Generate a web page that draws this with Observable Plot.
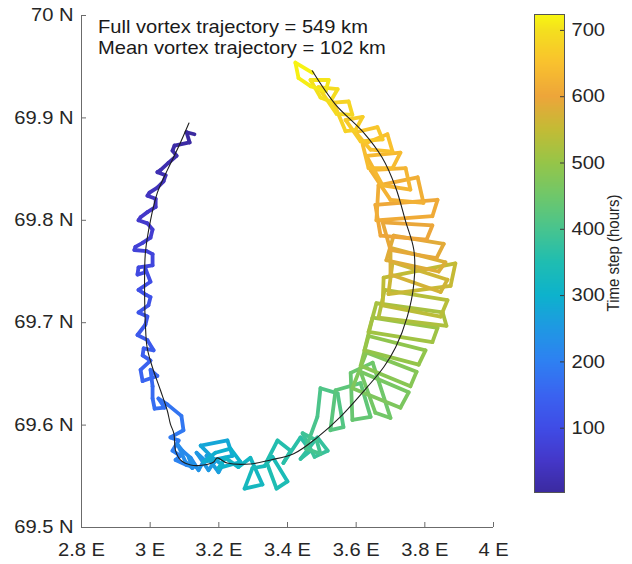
<!DOCTYPE html>
<html><head><meta charset="utf-8">
<script src="https://cdn.jsdelivr.net/npm/d3@7"></script>
<script src="https://cdn.jsdelivr.net/npm/@observablehq/plot@0.6"></script>
<style>
html,body{margin:0;padding:0;background:#fff;}
#chart{position:relative;width:632px;height:564px;overflow:hidden;}
#chart svg{position:absolute;left:0;top:0;}
</style></head><body><div id="chart"></div>
<script>
// Vortex positions (degrees E / degrees N) and time step (hours)
const lon = [3.129,3.106,3.115,3.071,3.065,3.077,3.053,3.030,3.021,3.045,
  3.039,3.021,2.998,2.992,3.016,3.016,2.992,2.972,2.966,2.992,
  3.007,3.001,2.978,2.957,2.954,2.989,3.007,3.007,2.966,2.963,
  2.984,2.986,3.001,2.966,2.989,3.001,2.995,2.966,2.992,2.986,
  2.963,2.992,3.010,2.981,2.978,3.001,2.972,2.978,3.021,3.001,
  3.007,3.007,3.013,3.042,3.024,3.051,3.091,3.097,3.059,3.083,
  3.065,3.088,3.074,3.106,3.135,3.118,3.094,3.080,
  3.103,3.123,3.112,3.141,3.158,3.135,3.170,3.187,3.164,3.199,3.211,3.182,
  3.147,3.225,3.240,3.155,3.190,3.234,3.263,3.199,3.219,
  3.257,3.292,3.327,3.275,3.298,3.333,3.356,3.400,3.368,3.339,3.371,3.409,3.388,3.438,3.467,3.438,3.487,3.517,3.479,
  3.444,3.485,3.496,3.453,3.487,3.496,3.546,3.563,3.525,3.540,3.613,3.642,3.589,3.584,3.648,3.700,3.656,
  3.613,3.753,3.729,3.589,3.630,3.776,3.758,3.613,3.636,3.802,3.782,3.624,3.648,3.837,3.822,3.636,
  3.659,3.852,3.863,3.665,3.683,3.866,3.846,3.677,3.680,3.889,3.875,3.694,3.706,3.866,3.846,3.700,
  3.700,3.860,3.840,3.688,3.709,3.855,3.834,3.700,3.677,3.822,3.805,3.671,3.656,3.837,3.822,3.659,
  3.665,3.779,3.796,3.700,3.642,3.744,3.758,3.677,3.630,3.729,3.706,3.636,3.619,3.691,3.706,3.642,
  3.598,3.662,3.677,3.613,3.569,3.619,3.598,3.569,3.534,3.578,3.589,3.543,3.490,3.546,3.525,3.496,
  3.467,3.520,3.511,3.467,3.432,3.423,3.473];
const lat = [69.884,69.886,69.876,69.873,69.868,69.863,69.856,69.849,69.847,69.844,
  69.838,69.832,69.827,69.824,69.821,69.813,69.808,69.803,69.800,69.797,
  69.791,69.783,69.778,69.774,69.771,69.770,69.767,69.756,69.754,69.747,
  69.749,69.753,69.740,69.732,69.727,69.725,69.717,69.710,69.706,69.698,
  69.688,69.683,69.673,69.675,69.668,69.663,69.654,69.643,69.648,69.654,
  69.638,69.626,69.616,69.617,69.626,69.620,69.609,69.595,69.588,69.585,
  69.575,69.570,69.566,69.561,69.559,69.568,69.575,69.581,
  69.564,69.558,69.569,69.556,69.566,69.573,69.556,69.564,69.570,69.554,69.561,69.568,
  69.580,69.585,69.570,69.564,69.573,69.577,69.564,69.558,69.568,
  69.559,69.568,69.542,69.538,69.558,69.560,69.569,69.545,69.538,69.564,69.585,69.575,69.563,69.588,69.575,69.567,69.588,69.575,69.569,
  69.592,69.585,69.572,69.577,69.608,69.636,69.631,69.598,69.595,69.634,69.641,69.608,69.605,69.651,69.661,69.607,69.612,
  69.652,69.632,69.617,69.636,69.671,69.652,69.638,69.658,69.687,69.673,69.659,69.673,69.705,69.695,69.681,69.691,
  69.719,69.710,69.697,69.705,69.732,69.722,69.706,69.717,69.744,69.758,69.736,69.728,69.759,69.742,69.730,69.747,
  69.773,69.759,69.750,69.761,69.785,69.777,69.763,69.771,69.798,69.795,69.781,69.785,69.815,69.820,69.804,69.800,
  69.834,69.842,69.817,69.820,69.849,69.851,69.830,69.834,69.863,69.866,69.851,69.851,69.874,69.884,69.867,69.869,
  69.886,69.891,69.879,69.877,69.898,69.901,69.888,69.887,69.915,69.916,69.903,69.904,69.930,69.928,69.916,69.920,
  69.937,69.937,69.926,69.931,69.939,69.954,69.944];
const hours = [1,3,6,10,12,15,19,22,24,27,
  30,34,37,39,42,46,50,53,55,58,
  62,66,70,73,75,78,81,85,89,92,
  94,96,100,104,107,109,113,117,120,124,
  128,131,135,138,141,145,149,152,155,158,
  162,166,169,172,175,178,182,186,190,193,
  197,200,204,208,212,216,219,222,
  226,230,234,238,242,246,250,254,258,262,266,270,
  274,279,284,289,293,297,301,305,309,
  313,317,322,326,330,334,337,342,346,350,354,358,361,365,369,372,376,380,383,
  387,391,395,399,403,408,412,417,421,425,430,435,439,443,447,452,456,
  460,464,467,471,474,478,482,485,489,492,496,500,503,507,510,514,
  518,521,525,528,532,536,539,543,546,550,554,557,561,564,568,572,
  575,577,580,582,585,587,590,592,595,597,600,602,605,607,610,612,
  615,617,620,622,625,627,630,632,635,637,640,642,645,647,650,652,
  655,658,661,664,667,670,673,676,679,682,685,688,691,694,697,700,
  703,706,709,712,715,718,721];

// Mean vortex trajectory
const meanLon = [3.113,3.083,3.050,3.021,3.001,2.986,2.984,2.986,2.991,3.006,3.030,3.050,3.059,3.069,3.074,3.088,3.118,3.156,3.185,3.195,3.224,3.292,3.351,3.418,3.487,3.554,3.632,3.681,3.715,3.749,3.768,3.768,3.744,3.715,3.676,3.618,3.540,3.472];
const meanLat = [69.895,69.872,69.849,69.827,69.800,69.768,69.722,69.699,69.676,69.657,69.634,69.614,69.601,69.592,69.575,69.566,69.561,69.561,69.564,69.568,69.563,69.562,69.566,69.572,69.588,69.608,69.637,69.657,69.676,69.706,69.738,69.771,69.799,69.832,69.861,69.887,69.913,69.946];

// Axes
const xTicks = [2.8, 3, 3.2, 3.4, 3.6, 3.8, 4];
const xTickLabels = ["2.8 E", "3 E", "3.2 E", "3.4 E", "3.6 E", "3.8 E", "4 E"];
const yTicks = [69.5, 69.6, 69.7, 69.8, 69.9, 70];
const yTickLabels = ["69.5 N", "69.6 N", "69.7 N", "69.8 N", "69.9 N", "70 N"];

// Colorbar
const cbRange = [3, 724];
const cbTicks = [100, 200, 300, 400, 500, 600, 700];
const cbStops = [3, 50, 100, 150, 200, 250, 300, 350, 400, 450, 500, 550, 600, 650, 700, 724];
const cbColors = ["#3b2aa0","#4437c8","#3f4ce6","#3a63f0","#2e80f2","#1f98e3","#0db2cc","#1fbdb1",
                  "#48c48e","#6fc76a","#96c548","#c3bb35","#eda53a","#f9c12e","#f4df1e","#f8f710"];
const cbLabel = "Time step (hours)";
const annotation = ["Full vortex trajectory = 549 km", "Mean vortex trajectory = 102 km"];

const FONT = "'Liberation Sans', Arial, Helvetica, sans-serif";
const AX = "#6b6b6b";
const W = 632, H = 564;
const mL = 81, mR = 139, mT = 15, mB = 37;
const plotW = W - mL - mR, plotH = H - mT - mB;

const segs = d3.range(lon.length - 1).map(i => ({
  x1: lon[i], y1: lat[i], x2: lon[i + 1], y2: lat[i + 1], t: (hours[i] + hours[i + 1]) / 2
}));
const meanPts = meanLon.map((d, i) => ({lon: d, lat: meanLat[i]}));
const color = {type: "linear", domain: cbStops, range: cbColors};

const main = Plot.plot({
  width: W, height: H,
  marginLeft: mL, marginRight: mR, marginTop: mT, marginBottom: mB,
  x: {domain: [2.8, 4], label: null},
  y: {domain: [69.5, 70], label: null},
  color,
  style: {fontFamily: FONT, fontSize: "17.5px", color: "#262626", background: "transparent", overflow: "visible"},
  marks: [
    Plot.link(segs, {x1: "x1", y1: "y1", x2: "x2", y2: "y2", stroke: "t", strokeWidth: 3.8, strokeLinecap: "round", strokeLinejoin: "round"}),
    Plot.line(meanPts, {x: "lon", y: "lat", curve: "catmull-rom", stroke: "#1e1e1e", strokeWidth: 1.1}),
    Plot.ruleX([2.8], {stroke: AX}),
    Plot.ruleY([69.5], {stroke: AX}),
    Plot.tickY(yTicks, {stroke: AX, insetRight: plotW - 5}),
    Plot.tickX(xTicks, {stroke: AX, insetTop: plotH - 5}),
    Plot.axisY({ticks: yTicks, tickSize: 0, tickPadding: 8, label: null,
      tickFormat: d => yTickLabels[yTicks.indexOf(d)]}),
    Plot.axisX({ticks: xTicks, tickSize: 0, tickPadding: 16, label: null,
      tickFormat: d => xTickLabels[xTicks.indexOf(d)]})
  ]
});

const cb = Plot.plot({
  width: W, height: H,
  marginLeft: 534, marginRight: 68, marginTop: 14, marginBottom: 72,
  y: {domain: cbRange, label: null},
  color,
  style: {fontFamily: FONT, fontSize: "17.5px", color: "#262626", background: "transparent", overflow: "visible"},
  marks: [
    Plot.rect(d3.range(cbRange[0], cbRange[1]), {y1: d => d, y2: d => d + 1, fill: d => d + 0.5, shapeRendering: "crispEdges"}),
    Plot.tickY(cbTicks, {stroke: "#3a3a3a", insetLeft: 26}),
    Plot.frame({stroke: "#555"}),
    Plot.axisY({anchor: "right", ticks: cbTicks, tickSize: 0, tickPadding: 7, label: null})
  ]
});

// annotation text
d3.select(main).append("g")
  .attr("fill", "#1a1a1a")
  .attr("text-anchor", "start")
  .style("font-size", "17.5px")
  .selectAll("text").data(annotation).join("text")
  .attr("x", 98).attr("y", (d, i) => 33.5 + i * 20.5)
  .text(d => d);

// horizontal stretch of the reference's lettering
function stretch(svg, k) {
  svg.querySelectorAll("text").forEach(t => {
    const x = parseFloat(t.getAttribute("x")) || 0;
    const tr = t.getAttribute("transform") || "";
    t.setAttribute("transform", `${tr} translate(${x},0) scale(${k},1) translate(${-x},0)`);
  });
}
stretch(main, 1.15);
stretch(cb, 1.15);

// colorbar label (rotated)
d3.select(cb).append("text")
  .attr("transform", "translate(619,253) rotate(-90) scale(1,1.15)")
  .attr("text-anchor", "middle")
  .attr("fill", "#262626")
  .style("font-size", "15px")
  .text(cbLabel);

const root = document.getElementById("chart");
root.append(main);
root.append(cb);
</script>
</body></html>
